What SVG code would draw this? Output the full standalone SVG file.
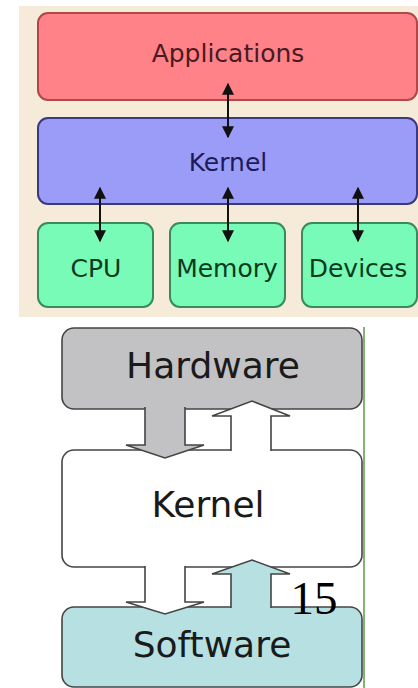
<svg xmlns="http://www.w3.org/2000/svg" width="418" height="688" viewBox="0 0 418 688">
<style>
text{font-family:"DejaVu Sans",Verdana,sans-serif;text-anchor:middle}
.t1{font-size:25px}
.t2{font-size:36px;fill:#1a1a1a}
.app{fill:#ff8288;stroke:#b04848;stroke-width:2}
.ker{fill:#9a9cf8;stroke:#3a3a80;stroke-width:2}
.hw{fill:#77fbb6;stroke:#3a8a5e;stroke-width:2}
.blk{fill:none;stroke:#111;stroke-width:2}
.box2{stroke:#444;stroke-width:1.6}
</style>
<defs>
<marker id="ah" viewBox="0 0 10 10" refX="9" refY="5" markerWidth="6.5" markerHeight="6" orient="auto-start-reverse">
<path d="M0,0 L10,5 L0,10 z" fill="#111"/>
</marker>
</defs>
<rect x="0" y="0" width="418" height="688" fill="#ffffff"/>
<rect x="19" y="6" width="399" height="311" fill="#f6ebd8"/>
<g id="applications">
<rect class="app" x="38" y="13" width="379" height="87" rx="10"/>
<text class="t1" x="228" y="62" fill="#4a1a22">Applications</text>
</g>
<g id="kernel-top">
<rect class="ker" x="38" y="118" width="379" height="86" rx="10"/>
<text class="t1" x="228" y="171" fill="#1c1c5a">Kernel</text>
</g>
<g id="cpu">
<rect class="hw" x="38" y="223" width="115" height="84" rx="10"/>
<text class="t1" x="96" y="277" fill="#0c3a1e">CPU</text>
</g>
<g id="memory">
<rect class="hw" x="170" y="223" width="115" height="84" rx="10"/>
<text class="t1" x="227" y="277" fill="#0c3a1e">Memory</text>
</g>
<g id="devices">
<rect class="hw" x="302" y="223" width="115" height="84" rx="10"/>
<text class="t1" x="358" y="277" fill="#0c3a1e">Devices</text>
</g>
<g id="connectors-top">
<line class="blk" x1="228" y1="84" x2="228" y2="137" marker-start="url(#ah)" marker-end="url(#ah)"/>
<line class="blk" x1="100" y1="188" x2="100" y2="241" marker-start="url(#ah)" marker-end="url(#ah)"/>
<line class="blk" x1="228" y1="188" x2="228" y2="241" marker-start="url(#ah)" marker-end="url(#ah)"/>
<line class="blk" x1="358" y1="188" x2="358" y2="241" marker-start="url(#ah)" marker-end="url(#ah)"/>
</g>
<line x1="364" y1="327" x2="364" y2="688" stroke="#5a9a4a" stroke-width="1.5"/>
<g id="hardware">
<rect class="box2" x="62" y="328" width="300" height="81" rx="12" fill="#c2c2c4"/>
<text class="t2" x="213" y="378">Hardware</text>
</g>
<g id="kernel-bottom">
<rect class="box2" x="62" y="450" width="300" height="117" rx="12" fill="#ffffff"/>
<text class="t2" x="208" y="517">Kernel</text>
</g>
<g id="software">
<rect class="box2" x="62" y="607" width="300" height="80" rx="12" fill="#b6e0e2"/>
<text class="t2" x="212" y="657">Software</text>
</g>
<g id="connectors-bottom">
<path class="box2" fill="#c2c2c4" d="M145,407 L145,445 L126,445 L165,458 L204,445 L185,445 L185,407"/>
<path class="box2" fill="#ffffff" d="M231,451 L231,416 L212,416 L252,401 L290,416 L271,416 L271,451"/>
<path class="box2" fill="#ffffff" d="M145,566 L145,602 L126,602 L165,614 L204,602 L185,602 L185,566"/>
<path class="box2" fill="#b6e0e2" d="M231,608 L231,574 L212,574 L252,560 L290,574 L271,574 L271,608"/>
</g>
<text x="314" y="614" style="font-family:'Liberation Serif','Times New Roman',serif;font-size:47px;text-anchor:middle" fill="#000">15</text>
</svg>
